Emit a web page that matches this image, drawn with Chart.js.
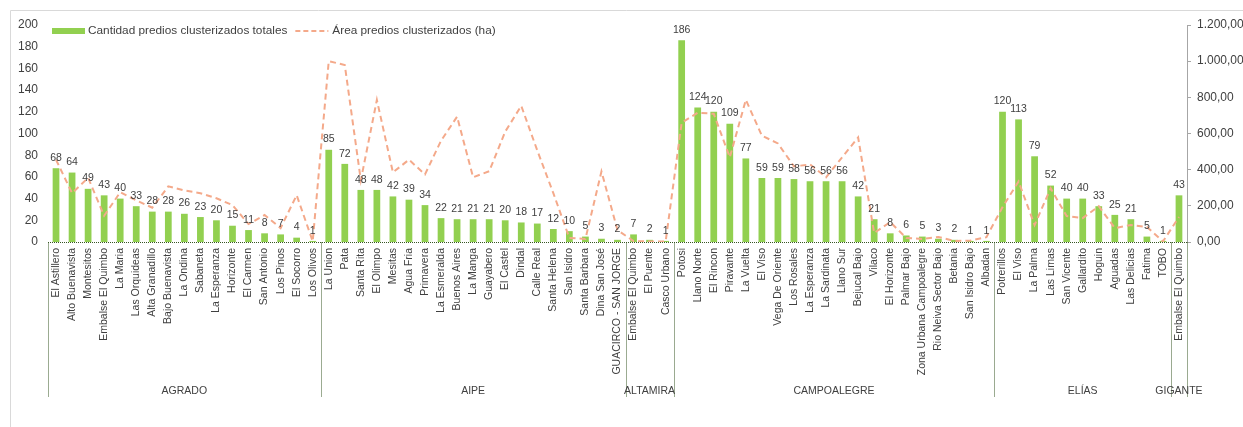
<!DOCTYPE html>
<html lang="es">
<head>
<meta charset="utf-8">
<title>Predios clusterizados por vereda</title>
<script src="https://cdn.jsdelivr.net/npm/chart.js@4.4.1/dist/chart.umd.min.js"></script>
<style>
  html, body { margin: 0; padding: 0; background: #ffffff; }
  #wrap { width: 1243px; height: 427px; position: relative; }
</style>
</head>
<body>
<div id="wrap"><canvas id="chart" width="1243" height="427"></canvas></div>
<script>
// Veredas (x axis), grouped by municipio
const categories = [
  'El Astillero', 'Alto Buenavista', 'Montesitos', 'Embalse El Quimbo', 'La Maria', 'Las Orquideas',
  'Alta Granadillo', 'Bajo Buenavista', 'La Ondina', 'Sabaneta', 'La Esperanza', 'Horizonte',
  'El Carmen', 'San Antonio', 'Los Pinos', 'El Socorro', 'Los Olivos',
  'La Union', 'Pata', 'Santa Rita', 'El Olimpo', 'Mesitas', 'Agua Fria', 'Primavera', 'La Esmeralda',
  'Buenos Aires', 'La Manga', 'Guayabero', 'El Castel', 'Dindal', 'Calle Real', 'Santa Helena',
  'San Isidro', 'Santa Barbara', 'Dina San José', 'GUACIRCO - SAN JORGE',
  'Embalse El Quimbo', 'El Puente', 'Casco Urbano',
  'Potosi', 'Llano Norte', 'El Rincon', 'Piravante', 'La Vuelta', 'El Viso', 'Vega De Oriente',
  'Los Rosales', 'La Esperanza', 'La Sardinata', 'Llano Sur', 'Bejucal Bajo', 'Vilaco', 'El Horizonte',
  'Palmar Bajo', 'Zona Urbana Campoalegre', 'Rio Neiva Sector Bajo', 'Betania', 'San Isidro Bajo', 'Albadan',
  'Potrerillos', 'El Viso', 'La Palma', 'Las Limas', 'San Vicente', 'Gallardito', 'Hoguin', 'Aguadas',
  'Las Delicias', 'Fatima', 'TOBO',
  'Embalse El Quimbo'
];

// Municipios and how many veredas each one spans
const groupNames = ['AGRADO', 'AIPE', 'ALTAMIRA', 'CAMPOALEGRE', 'ELÍAS', 'GIGANTE'];
const groupSizes = [17, 19, 3, 20, 11, 1];

// Cantidad predios clusterizados totales (left axis)
const predios = [
  68, 64, 49, 43, 40, 33, 28, 28, 26, 23, 20, 15, 11, 8, 7, 4, 1,
  85, 72, 48, 48, 42, 39, 34, 22, 21, 21, 21, 20, 18, 17, 12, 10, 5, 3, 2,
  7, 2, 1,
  186, 124, 120, 109, 77, 59, 59, 58, 56, 56, 56, 42, 21, 8, 6, 5, 3, 2, 1, 1,
  120, 113, 79, 52, 40, 40, 33, 25, 21, 5, 1,
  43
];

// Área predios clusterizados in hectares (right axis)
const areaHa = [
  455, 270, 355, 145, 275, 230, 190, 308, 285, 270, 242, 204, 99, 149, 77, 259, 4,
  1000, 979, 341, 786, 385, 455, 374, 560, 693, 358, 391, 610, 753, 506, 270, 22, 17, 390, 66,
  5, 3, 3,
  660, 715, 709, 468, 786, 588, 545, 418, 429, 358, 468, 578, 50, 110, 22, 17, 28, 5, 8, 27,
  193, 335, 94, 297, 143, 132, 198, 77, 94, 83, 3,
  138
];

const seriesLabels = ['Cantidad predios clusterizados totales', 'Área predios clusterizados (ha)'];

const FONT = '"Liberation Sans", Arial, Helvetica, sans-serif';
const TEXT = '#404040';
const BAR_GREEN = '#92D050';
const LINE_SALMON = '#F4A98A';
const SEP_GREEN = '#375623';

// 1.200,00 style numbers
function fmtEs(v) {
  const parts = Number(v).toFixed(2).split('.');
  const intPart = parts[0].replace(/\B(?=(\d{3})+(?!\d))/g, '.');
  return intPart + ',' + parts[1];
}

// Outer frame of the chart object
const framePlugin = {
  id: 'frame',
  beforeDraw(chart) {
    const ctx = chart.ctx;
    ctx.save();
    ctx.strokeStyle = '#D9D9D9';
    ctx.lineWidth = 1;
    ctx.beginPath();
    ctx.moveTo(10.5, chart.height);
    ctx.lineTo(10.5, 10.5);
    ctx.lineTo(chart.width, 10.5);
    ctx.stroke();
    ctx.restore();
  }
};

// Value labels above each bar
const barLabelPlugin = {
  id: 'barLabels',
  afterDatasetsDraw(chart) {
    const ctx = chart.ctx;
    const meta = chart.getDatasetMeta(0);
    ctx.save();
    ctx.font = '10.5px ' + FONT;
    ctx.fillStyle = TEXT;
    ctx.textAlign = 'center';
    ctx.textBaseline = 'bottom';
    meta.data.forEach((el, i) => {
      ctx.fillText(String(predios[i]), el.x, el.y - 5);
    });
    ctx.restore();
  }
};

// Dotted axis line, municipio separators and municipio names
const groupAxisPlugin = {
  id: 'groupAxis',
  afterDraw(chart) {
    const ctx = chart.ctx;
    const xs = chart.scales.x;
    const area = chart.chartArea;
    const half = (xs.getPixelForValue(1) - xs.getPixelForValue(0)) / 2;
    const boundary = (idx) => idx < categories.length
      ? xs.getPixelForValue(idx) - half
      : xs.getPixelForValue(categories.length - 1) + half;
    const yTop = Math.round(area.bottom) + 0.5;
    const yBottom = 397;

    ctx.save();
    ctx.strokeStyle = SEP_GREEN;
    ctx.lineWidth = 1;
    ctx.setLineDash([1, 1]);

    ctx.beginPath();
    ctx.moveTo(area.left, yTop);
    ctx.lineTo(area.right, yTop);
    ctx.stroke();

    let start = 0;
    const edges = [boundary(0)];
    groupSizes.forEach((n) => { start += n; edges.push(boundary(start)); });
    edges.forEach((x) => {
      const px = Math.round(x) + 0.5;
      ctx.beginPath();
      ctx.moveTo(px, yTop);
      ctx.lineTo(px, yBottom);
      ctx.stroke();
    });

    ctx.setLineDash([]);
    ctx.font = '10.5px ' + FONT;
    ctx.fillStyle = TEXT;
    ctx.textAlign = 'center';
    ctx.textBaseline = 'middle';
    groupNames.forEach((name, g) => {
      ctx.fillText(name, (edges[g] + edges[g + 1]) / 2, 391);
    });
    ctx.restore();
  }
};

// Legend drawn inside the plot, top left
const legendPlugin = {
  id: 'insideLegend',
  afterDraw(chart) {
    const ctx = chart.ctx;
    const y = 31;
    ctx.save();
    ctx.font = '11.8px ' + FONT;
    ctx.textBaseline = 'middle';
    ctx.textAlign = 'left';

    ctx.fillStyle = BAR_GREEN;
    ctx.fillRect(52, y - 3, 33, 6);
    ctx.fillStyle = TEXT;
    ctx.fillText(seriesLabels[0], 88, y);

    const x2 = 88 + ctx.measureText(seriesLabels[0]).width + 8;
    ctx.strokeStyle = LINE_SALMON;
    ctx.lineWidth = 2;
    ctx.setLineDash([5, 3]);
    ctx.beginPath();
    ctx.moveTo(x2, y);
    ctx.lineTo(x2 + 33, y);
    ctx.stroke();
    ctx.setLineDash([]);
    ctx.fillText(seriesLabels[1], x2 + 37, y);
    ctx.restore();
  }
};

new Chart(document.getElementById('chart'), {
  data: {
    labels: categories,
    datasets: [
      {
        type: 'bar',
        label: seriesLabels[0],
        data: predios,
        backgroundColor: BAR_GREEN,
        borderWidth: 0,
        categoryPercentage: 1,
        barPercentage: 0.42,
        yAxisID: 'y',
        order: 1
      },
      {
        type: 'line',
        label: seriesLabels[1],
        data: areaHa,
        borderColor: LINE_SALMON,
        borderWidth: 2,
        borderDash: [6, 4],
        pointRadius: 0,
        tension: 0,
        fill: false,
        yAxisID: 'y1',
        order: 0
      }
    ]
  },
  options: {
    responsive: false,
    devicePixelRatio: 1,
    animation: false,
    layout: { padding: { top: 25, left: 0, right: 0, bottom: 0 } },
    plugins: {
      legend: { display: false },
      tooltip: { enabled: false }
    },
    scales: {
      x: {
        type: 'category',
        offset: true,
        grid: { display: false, drawTicks: false },
        border: { display: false },
        ticks: {
          autoSkip: false,
          minRotation: 90,
          maxRotation: 90,
          padding: 6,
          color: TEXT,
          font: { size: 10.5, family: FONT }
        },
        afterFit(scale) { scale.height = 185; }
      },
      y: {
        position: 'left',
        min: 0,
        max: 200,
        grid: { display: false, drawTicks: false },
        border: { display: false },
        ticks: {
          stepSize: 20,
          padding: 10,
          color: TEXT,
          font: { size: 12, family: FONT }
        },
        afterFit(scale) { scale.width = 48; }
      },
      y1: {
        position: 'right',
        min: 0,
        max: 1200,
        grid: { drawOnChartArea: false, drawTicks: true, tickLength: 4, color: '#A6A6A6' },
        border: { display: true, color: '#A6A6A6' },
        ticks: {
          stepSize: 200,
          padding: 6,
          color: TEXT,
          font: { size: 12, family: FONT },
          callback: (v) => fmtEs(v)
        },
        afterFit(scale) { scale.width = 56; }
      }
    }
  },
  plugins: [framePlugin, barLabelPlugin, groupAxisPlugin, legendPlugin]
});
</script>
</body>
</html>
